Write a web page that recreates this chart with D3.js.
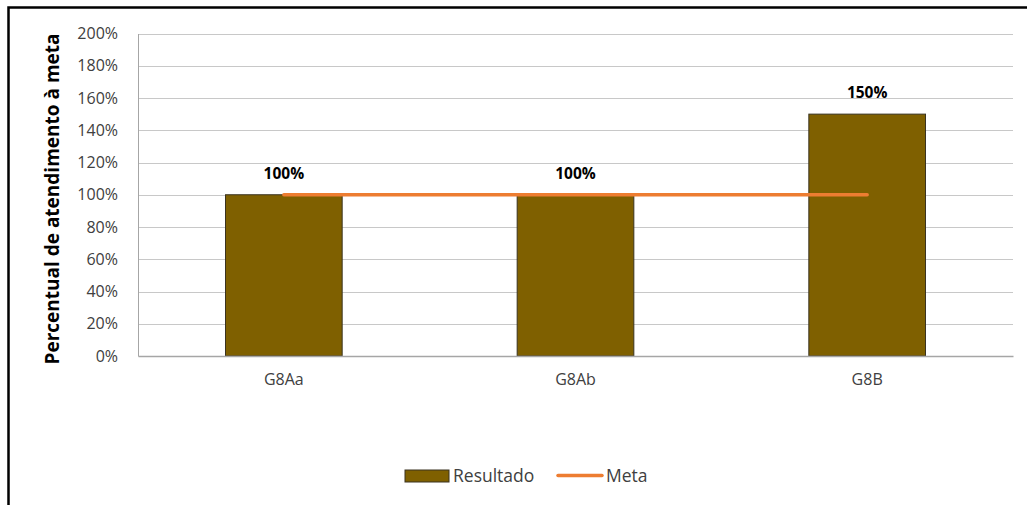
<!DOCTYPE html>
<html><head><meta charset="utf-8">
<script src="https://cdn.jsdelivr.net/npm/d3@7"></script>
<style>
body{margin:0;background:#fff;}
svg{display:block;}
svg text{font-family:"Open Sans","Liberation Sans",sans-serif;}
</style></head>
<body>
<svg id="c" width="1027" height="505"></svg>
<script>
const categories = ["G8Aa", "G8Ab", "G8B"];
const resultado = [1.00, 1.00, 1.50];
const meta = [1.00, 1.00, 1.00];
const yTicks = [0, 0.2, 0.4, 0.6, 0.8, 1.0, 1.2, 1.4, 1.6, 1.8, 2.0];
const seriesNames = ["Resultado", "Meta"];

const FONT = "'Open Sans','Liberation Sans',sans-serif";
const svg = d3.select("#c");
const m = {left:138, right:1013, top:33.5, bottom:356};
const x = d3.scaleBand().domain(categories).range([m.left, m.right]).paddingInner(0.6).paddingOuter(0.3);
const xc = d3.scaleBand().domain(categories).range([m.left, m.right]);
const y = d3.scaleLinear().domain([0, 2]).range([m.bottom, m.top]);
const fmt = d => Math.round(d*100) + "%";

// outer border (top and left visible)
svg.append("path").attr("d", `M8.5,505 L8.5,7.5 L1027,7.5`).attr("fill","none").attr("stroke","#000").attr("stroke-width",2.5);

// gridlines
svg.append("g").selectAll("line").data(yTicks.filter(d=>d>0)).join("line")
  .attr("x1", m.left).attr("x2", m.right)
  .attr("y1", d=>Math.round(y(d))+0.5).attr("y2", d=>Math.round(y(d))+0.5)
  .attr("stroke","#c8c8c8").attr("stroke-width",1);

// y axis
const ya = svg.append("g").attr("transform",`translate(${m.left},0)`)
  .call(d3.axisLeft(y).tickValues(yTicks).tickFormat(fmt).tickSize(0).tickPadding(20));
ya.attr("font-family",FONT).attr("font-size",16);
ya.select(".domain").attr("stroke","#a6a6a6");
ya.selectAll("text").attr("fill","#404040");

// bars
svg.append("g").selectAll("rect").data(resultado).join("rect")
  .attr("x",(d,i)=>x(categories[i])).attr("width",x.bandwidth())
  .attr("y",d=>y(d)).attr("height",d=>y(0)-y(d))
  .attr("fill","#7F6000").attr("stroke","#3a3320").attr("stroke-width",1);

// x axis
const xa = svg.append("g").attr("transform",`translate(0,${m.bottom})`)
  .call(d3.axisBottom(xc).tickSize(0).tickPadding(18));
xa.attr("font-family",FONT).attr("font-size",16);
xa.select(".domain").attr("stroke","#a6a6a6").attr("stroke-width",1.5);
xa.selectAll("text").attr("fill","#404040");

// bar labels
svg.append("g").selectAll("text").data(resultado).join("text")
  .attr("x",(d,i)=>xc(categories[i])+xc.bandwidth()/2)
  .attr("y",d=>y(d)-16)
  .attr("text-anchor","middle").attr("font-size",15.5).attr("font-weight","bold").attr("fill","#000")
  .text(fmt);

// meta line
const line = d3.line().x((d,i)=>xc(categories[i])+xc.bandwidth()/2).y(d=>y(d));
svg.append("path").datum(meta).attr("d",line).attr("fill","none")
  .attr("stroke","#ED7D31").attr("stroke-width",3.5).attr("stroke-linecap","round");

// y title
svg.append("text").attr("transform",`translate(59,199) rotate(-90)`)
  .attr("text-anchor","middle").attr("font-size",19).attr("font-weight","bold").attr("fill","#000")
  .text("Percentual de atendimento à meta");

// legend
const lg = svg.append("g");
lg.append("rect").attr("x",405).attr("y",470).attr("width",44).attr("height",12)
  .attr("fill","#7F6000").attr("stroke","#3a3320").attr("stroke-width",1);
lg.append("text").attr("x",453).attr("y",482).attr("font-size",17.5).attr("fill","#404040").text(seriesNames[0]);
lg.append("line").attr("x1",558).attr("x2",602).attr("y1",475.5).attr("y2",475.5)
  .attr("stroke","#ED7D31").attr("stroke-width",3.5).attr("stroke-linecap","round");
lg.append("text").attr("x",606).attr("y",482).attr("font-size",17.5).attr("fill","#404040").text(seriesNames[1]);
</script>
</body></html>
